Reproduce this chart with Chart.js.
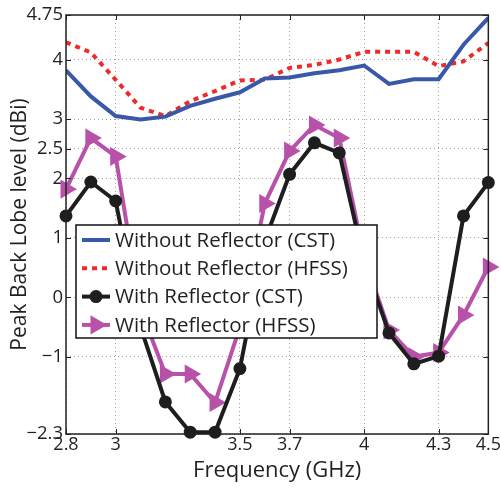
<!DOCTYPE html>
<html>
<head>
<meta charset="utf-8">
<script src="https://cdn.jsdelivr.net/npm/chart.js@4"></script>
<style>
    html, body { margin: 0; padding: 0; background: #fff; }
    #wrap { width: 501px; height: 487px; }
</style>
</head>
<body>
<div id="wrap"><canvas id="chart" width="501" height="487"></canvas></div>
<script>
// Frequency samples (GHz)
const freqs = [2.8, 2.9, 3.0, 3.1, 3.2, 3.3, 3.4, 3.5, 3.6, 3.7, 3.8, 3.9, 4.0, 4.1, 4.2, 4.3, 4.4, 4.5];

// Peak back lobe level (dBi)
const withoutCst  = [3.82, 3.38, 3.05, 2.99, 3.04, 3.22, 3.34, 3.45, 3.68, 3.70, 3.77, 3.82, 3.90, 3.59, 3.67, 3.67, 4.25, 4.70];
const withoutHfss = [4.29, 4.12, 3.66, 3.19, 3.05, 3.30, 3.47, 3.65, 3.66, 3.86, 3.91, 4.00, 4.13, 4.13, 4.13, 3.89, 3.97, 4.28];
const withCst     = [1.37, 1.94, 1.62, -0.50, -1.76, -2.27, -2.27, -1.20, 0.95, 2.07, 2.60, 2.43, 0.60, -0.60, -1.12, -0.99, 1.37, 1.93];
const withHfss    = [1.82, 2.68, 2.37, -0.20, -1.29, -1.29, -1.77, -0.50, 1.58, 2.46, 2.90, 2.68, 0.68, -0.55, -1.00, -0.93, -0.30, 0.51];

const xTicks = [2.8, 3, 3.5, 3.7, 4, 4.3, 4.5];
const yTicks = [-2.3, -1, 0, 1, 2, 2.5, 3, 4, 4.75];

const seriesLabels = [
    'Without Reflector (CST)',
    'Without Reflector (HFSS)',
    'With Reflector (CST)',
    'With Reflector (HFSS)'
];

const FONT = "'Open Sans', 'Noto Sans', sans-serif";
const TEXT = '#231f20';

function toPoints(ys) {
    return freqs.map((f, i) => ({ x: f, y: ys[i] }));
}

function fmt(v) {
    return v < 0 ? '\u2212' + Math.abs(v) : String(v);
}

// box + inward ticks like the original figure
const framePlugin = {
    id: 'frame',
    afterDraw(chart) {
        const { ctx, chartArea: a, scales } = chart;
        ctx.save();
        ctx.strokeStyle = '#222';
        ctx.lineWidth = 1;
        ctx.beginPath();
        xTicks.forEach(v => {
            const x = Math.round(scales.x.getPixelForValue(v)) + 0.5;
            ctx.moveTo(x, a.bottom); ctx.lineTo(x, a.bottom - 5);
            ctx.moveTo(x, a.top); ctx.lineTo(x, a.top + 5);
        });
        yTicks.forEach(v => {
            const y = Math.round(scales.y.getPixelForValue(v)) + 0.5;
            ctx.moveTo(a.left, y); ctx.lineTo(a.left + 5, y);
            ctx.moveTo(a.right, y); ctx.lineTo(a.right - 5, y);
        });
        ctx.stroke();
        ctx.lineWidth = 1.5;
        ctx.strokeRect(a.left, a.top, a.right - a.left, a.bottom - a.top);
        ctx.restore();
    }
};

// legend box drawn inside the plot area
const legendPlugin = {
    id: 'innerLegend',
    afterDraw(chart) {
        const { ctx, chartArea: a } = chart;
        const bx = a.left + 10, by = a.top + 210, bw = 301, bh = 113;
        ctx.save();
        ctx.fillStyle = '#fff';
        ctx.fillRect(bx, by, bw, bh);
        ctx.strokeStyle = '#111';
        ctx.lineWidth = 1.5;
        ctx.strokeRect(bx, by, bw, bh);

        chart.data.datasets.forEach((ds, i) => {
            const cy = by + 15 + i * 28.3;
            const x0 = bx + 6, x1 = bx + 34;
            ctx.strokeStyle = ds.borderColor;
            ctx.lineWidth = ds.borderWidth;
            ctx.setLineDash(ds.borderDash || []);
            ctx.beginPath();
            ctx.moveTo(x0, cy);
            ctx.lineTo(x1, cy);
            ctx.stroke();
            ctx.setLineDash([]);
            if (ds.pointRadius > 0) {
                ctx.fillStyle = ds.pointBackgroundColor;
                ctx.strokeStyle = ds.borderColor;
                Chart.helpers.drawPoint(ctx, {
                    pointStyle: ds.pointStyle,
                    rotation: ds.pointRotation || 0,
                    radius: ds.pointRadius,
                    borderWidth: 1
                }, (x0 + x1) / 2, cy);
            }
            ctx.fillStyle = TEXT;
            ctx.font = '20.5px ' + FONT;
            ctx.textBaseline = 'middle';
            ctx.fillText(seriesLabels[i], bx + 39, cy + 1);
        });
        ctx.restore();
    }
};

const ctx = document.getElementById('chart').getContext('2d');
new Chart(ctx, {
    type: 'line',
    data: {
        datasets: [
            {
                label: seriesLabels[0],
                data: toPoints(withoutCst),
                borderColor: '#3a58a8',
                borderWidth: 4,
                pointRadius: 0,
                tension: 0
            },
            {
                label: seriesLabels[1],
                data: toPoints(withoutHfss),
                borderColor: '#ee2a2a',
                borderWidth: 4,
                borderDash: [5, 5],
                pointRadius: 0,
                tension: 0
            },
            {
                label: seriesLabels[2],
                data: toPoints(withCst),
                borderColor: '#1e1e1e',
                borderWidth: 4,
                pointStyle: 'circle',
                pointRadius: 4.5,
                pointBackgroundColor: '#1e1e1e',
                pointBorderColor: '#1e1e1e',
                tension: 0,
                clip: false
            },
            {
                label: seriesLabels[3],
                data: toPoints(withHfss),
                borderColor: '#b851a8',
                borderWidth: 4,
                pointStyle: 'triangle',
                pointRotation: 90,
                pointRadius: 7,
                pointBackgroundColor: '#b851a8',
                pointBorderColor: '#b851a8',
                tension: 0,
                clip: false
            }
        ]
    },
    options: {
        responsive: false,
        animation: false,
        devicePixelRatio: 1,
        layout: { padding: { top: 15, right: 12, left: 0, bottom: 0 } },
        plugins: {
            legend: { display: false },
            tooltip: { enabled: false }
        },
        scales: {
            x: {
                type: 'linear',
                min: 2.8,
                max: 4.5,
                afterBuildTicks: scale => { scale.ticks = xTicks.map(v => ({ value: v })); },
                afterFit: scale => { scale.height = 53; },
                ticks: {
                    callback: v => fmt(v),
                    color: TEXT,
                    font: { family: FONT, size: 18 },
                    padding: 0,
                    maxRotation: 0,
                    autoSkip: false
                },
                grid: {
                    color: '#a0a0a0',
                    lineWidth: 1,
                    drawTicks: false,
                    tickLength: 0
                },
                border: { display: false, dash: [1, 3] },
                title: {
                    display: true,
                    text: 'Frequency (GHz)',
                    color: TEXT,
                    font: { family: FONT, size: 22 },
                    padding: { top: 0, bottom: 3 }
                }
            },
            y: {
                min: -2.3,
                max: 4.75,
                afterBuildTicks: scale => { scale.ticks = yTicks.map(v => ({ value: v })); },
                afterFit: scale => { scale.width = 66; },
                ticks: {
                    callback: v => fmt(v),
                    color: TEXT,
                    font: { family: FONT, size: 18.5 },
                    padding: 3,
                    autoSkip: false
                },
                grid: {
                    color: '#a0a0a0',
                    lineWidth: 1,
                    drawTicks: false,
                    tickLength: 0
                },
                border: { display: false, dash: [1, 3] },
                title: {
                    display: true,
                    text: 'Peak Back Lobe level (dBi)',
                    color: TEXT,
                    font: { family: FONT, size: 21 },
                    padding: { top: 7, bottom: 0 }
                }
            }
        }
    },
    plugins: [framePlugin, legendPlugin]
});
</script>
</body>
</html>
